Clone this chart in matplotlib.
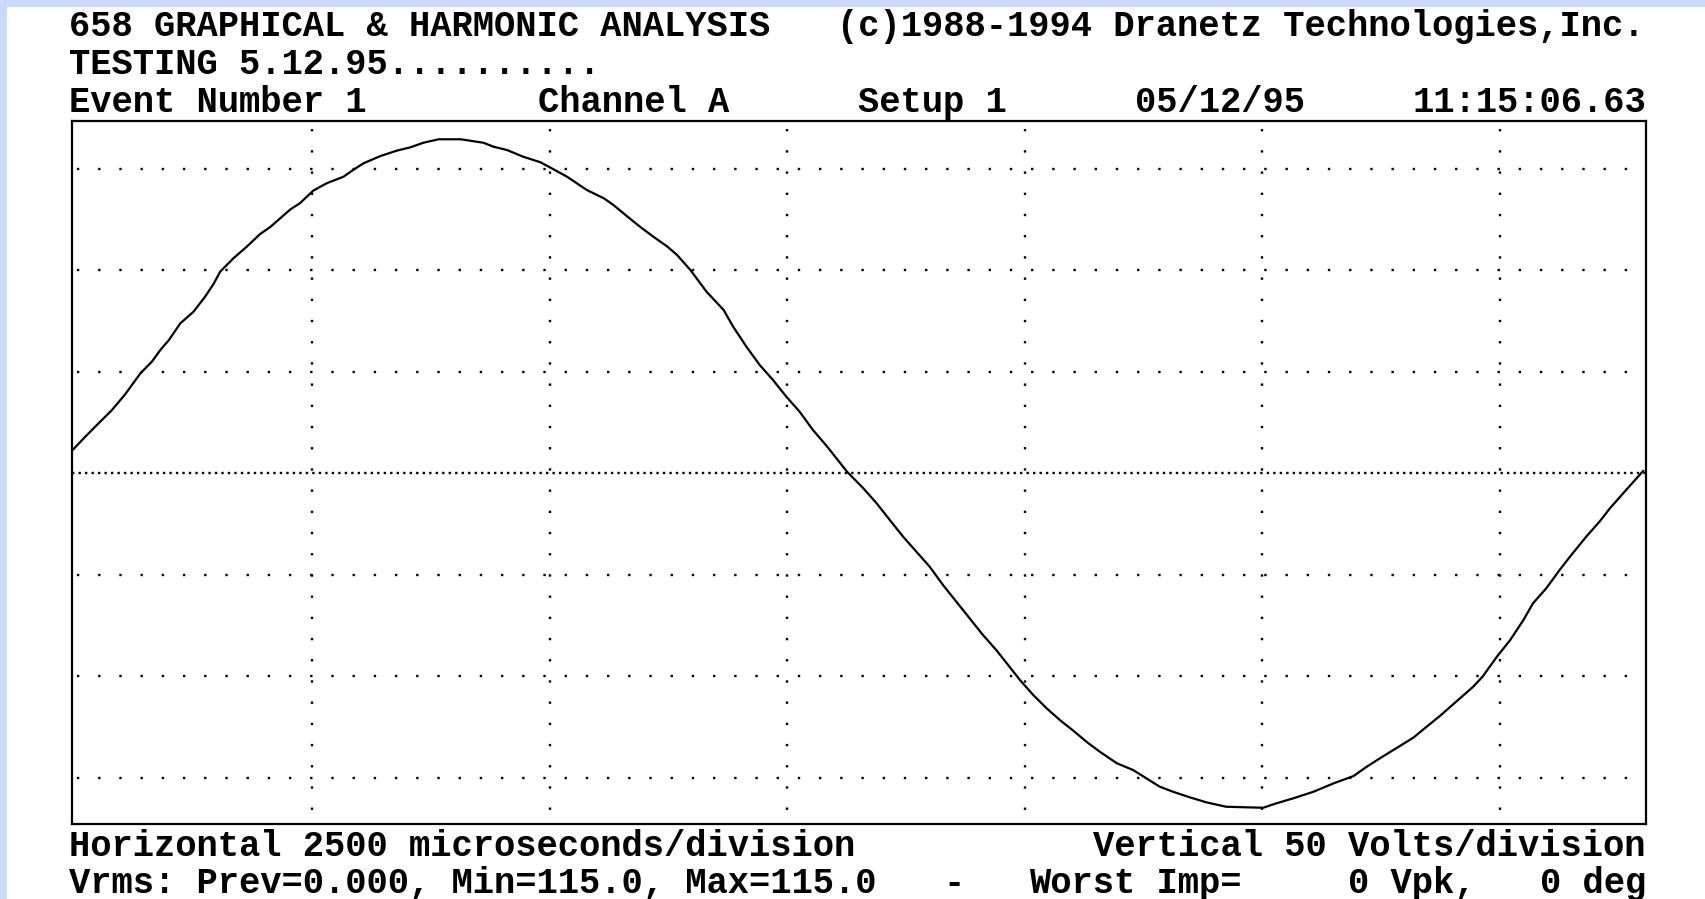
import matplotlib
matplotlib.use("Agg")
import matplotlib.pyplot as plt
from matplotlib.patches import Rectangle

# waveform (time in ms, amplitude in volts)
time_ms = [-0.03, 0.11, 0.25, 0.39, 0.53, 0.69, 0.81, 0.90, 0.99, 1.11, 1.25, 1.37, 1.46, 1.53,
           1.67, 1.81, 1.95, 2.06, 2.27, 2.37, 2.51, 2.65, 2.83, 2.93, 3.04, 3.22, 3.39, 3.53,
           3.67, 3.83, 4.06, 4.30, 4.41, 4.55, 4.72, 4.90, 5.00, 5.18, 5.39, 5.57, 5.67, 5.81,
           5.95, 6.09, 6.23, 6.34, 6.48, 6.65, 6.83, 6.93, 7.07, 7.21, 7.35, 7.49, 7.63, 7.77,
           7.92, 8.13, 8.30, 8.44, 8.58, 8.72, 8.86, 9.00, 9.14, 9.28, 9.42, 9.56, 9.70, 9.81,
           9.95, 10.09, 10.23, 10.37, 10.51, 10.65, 10.79, 10.97, 11.14, 11.28, 11.42, 11.56,
           11.74, 11.91, 12.12, 12.51, 12.65, 12.83, 13.04, 13.25, 13.46, 13.60, 13.74, 13.91,
           14.09, 14.23, 14.37, 14.54, 14.72, 14.82, 14.97, 15.11, 15.25, 15.35, 15.49, 15.63,
           15.74, 15.91, 16.05, 16.16, 16.33, 16.51]
volts = [11.0, 17.9, 24.5, 31.0, 38.8, 49.1, 54.8, 60.6, 65.5, 73.7, 79.5, 86.8, 93.1, 99.2,
         105.8, 111.5, 117.7, 121.3, 129.9, 132.9, 139.1, 142.7, 146.0, 149.3, 152.6, 156.2, 158.8, 160.4,
         162.7, 164.4, 164.4, 162.7, 160.7, 159.1, 155.8, 153.1, 150.6, 146.0, 139.4, 135.3, 132.0, 126.6,
         121.3, 116.4, 111.8, 107.4, 100.0, 89.3, 80.3, 72.1, 62.2, 53.2, 45.8, 37.6, 30.2, 21.2,
         13.0, 0.6, -7.5, -14.9, -23.2, -31.4, -38.8, -46.2, -55.2, -63.4, -71.6, -79.8, -87.2, -93.7,
         -102.0, -109.4, -115.9, -121.7, -126.9, -132.4, -137.3, -143.0, -146.3, -150.4, -154.5, -157.0,
         -159.8, -162.2, -164.4, -164.9, -162.7, -160.2, -157.0, -152.9, -149.3, -144.7, -140.5, -135.6,
         -130.4, -125.0, -119.7, -112.7, -105.3, -100.3, -90.5, -82.3, -72.4, -64.2, -56.8, -47.8,
         -41.2, -31.4, -24.0, -17.4, -8.4, 1.0]

# divisions: 2500 us/div horizontally, 50 V/div vertically
v_grid_ms = [2.5, 5.0, 7.5, 10.0, 12.5, 15.0]
h_grid_volts = [150, 100, 50, -50, -100, -150]

# text rows as (column, text)
header_rows = [
    [(0, "658 GRAPHICAL & HARMONIC ANALYSIS"), (36, "(c)1988-1994 Dranetz Technologies,Inc.")],
    [(0, "TESTING 5.12.95..........")],
    [(0, "Event Number 1"), (22, "Channel A"), (37, "Setup 1"), (50, "05/12/95"), (63, "11:15:06.63")],
]
footer_rows = [
    [(0, "Horizontal 2500 microseconds/division"), (48, "Vertical 50 Volts/division")],
    [(0, "Vrms: Prev=0.000, Min=115.0, Max=115.0"), (41, "-"), (45, "Worst Imp="),
     (60, "0 Vpk,"), (69, "0 deg")],
]

W, H = 1706, 899
CELL = 1706 / 80.0      # one character cell of the 80 column screen
TEXT_X0 = 69
header_base = [36, 74, 112]
footer_base = [856, 893]

fig = plt.figure(figsize=(W / 100, H / 100), dpi=100)
fig.patch.set_facecolor('white')

# lavender page edge on top and left
edge = '#cdd8fd'
fig.patches.append(Rectangle((0, 1 - 7 / H), 1, 7 / H, transform=fig.transFigure,
                             facecolor=edge, edgecolor='none'))
fig.patches.append(Rectangle((0, 0), 7 / W, 1, transform=fig.transFigure,
                             facecolor=edge, edgecolor='none'))

ax = fig.add_axes([72 / W, 1 - 824 / H, (1646 - 72) / W, (824 - 121) / H])
ax.set_xlim(-0.03, 16.54)
ax.set_ylim(-172.9, 173.4)
ax.set_xticks([])
ax.set_yticks([])
for sp in ax.spines.values():
    sp.set_linewidth(1.6)
    sp.set_color('black')

dot_lw = 1.7
for t in v_grid_ms:
    ax.axvline(t, color='black', lw=dot_lw, linestyle=(3.0, (1, 7.98)))
for v in h_grid_volts:
    ax.axhline(v, color='black', lw=dot_lw, linestyle=(6.9, (1, 7.98)))
ax.axhline(0, color='black', lw=dot_lw, linestyle=(0, (1, 1.75)))

ax.plot(time_ms, volts, color='black', lw=1.6, zorder=3)

font = dict(family='Liberation Mono', weight='bold', size=25.6, color='black')
for row, base in zip(header_rows + footer_rows, header_base + footer_base):
    for col, txt in row:
        fig.text((TEXT_X0 + col * CELL) / W, 1 - base / H, txt,
                 ha='left', va='baseline', **font)

fig.savefig('out.png', dpi=100, facecolor='white')
